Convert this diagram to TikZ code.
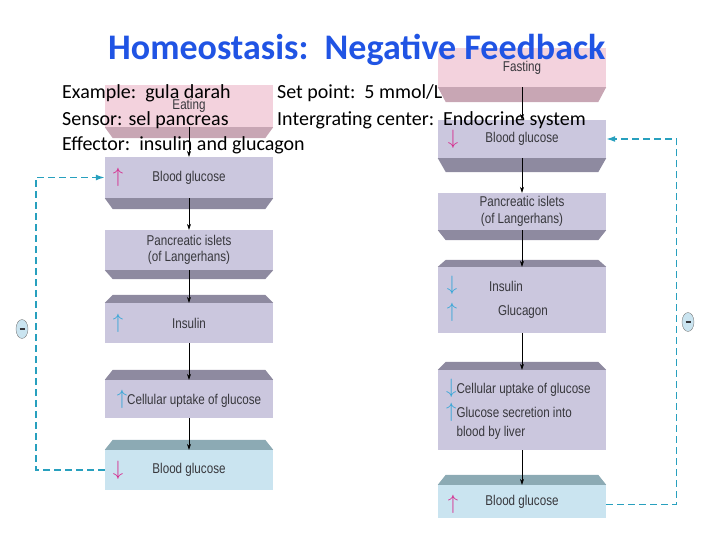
\documentclass[tikz,border=0pt]{standalone}
\usepackage{fontspec}
\setmainfont{Carlito}
\newfontfamily\figfont[FakeStretch=0.82]{Liberation Sans}
\usetikzlibrary{
    positioning,
    arrows.meta,
    shapes.geometric,
    calc
}
\definecolor{title_blue}{RGB}{32,84,228}
\definecolor{pink_face}{RGB}{243,210,221}
\definecolor{pink_bevel}{RGB}{200,166,180}
\definecolor{purple_face}{RGB}{203,199,222}
\definecolor{purple_bevel}{RGB}{142,138,160}
\definecolor{blue_face}{RGB}{202,228,240}
\definecolor{blue_bevel}{RGB}{140,170,180}
\definecolor{fig_text}{RGB}{55,55,60}
\definecolor{up_magenta}{RGB}{214,40,140}
\definecolor{up_cyan}{RGB}{50,165,215}
\definecolor{loop_teal}{RGB}{40,160,190}
\tikzset{
    face/.style={
        rectangle, minimum width=168pt, inner sep=0pt,
        align=center, text=fig_text,
        font=\figfont\fontsize{14.2}{16.5}\selectfont
    },
    pinkface/.style={face, fill=pink_face},
    purpleface/.style={face, fill=purple_face},
    blueface/.style={face, fill=blue_face},
    figlabel/.style={
        inner sep=0pt, text=fig_text,
        font=\figfont\fontsize{14.2}{16.5}\selectfont
    },
    updown/.style={
        inner sep=0pt, font=\fontsize{20}{20}\selectfont
    },
    flow/.style={
        -{Stealth[length=6pt,width=4pt]}, semithick, black
    },
    feedback/.style={
        -{Latex[length=9pt,width=6pt]}, line width=1.4pt, loop_teal,
        dash pattern=on 7pt off 4pt
    },
    minusmark/.style={
        ellipse, draw=gray, fill=blue_face, minimum width=12pt,
        minimum height=19pt, inner sep=0pt,
        path picture={\draw[line width=1.3pt, fig_text]
            ($(path picture bounding box.center)+(-2.5pt,0)$) -- ++(5pt,0);}
    },
    bodytext/.style={
        anchor=base west, inner sep=0pt,
        font=\fontsize{20}{22}\selectfont
    }
}
% bevel below / above a face node
\newcommand{\bevelbelow}[3]{%
    \fill[#2] (#1.south west) -- (#1.south east)
        -- ($(#1.south east)+(-8,#3)$) -- ($(#1.south west)+(8,#3)$) -- cycle;}
\newcommand{\bevelabove}[3]{%
    \fill[#2] (#1.north west) -- (#1.north east)
        -- ($(#1.north east)+(-8,-#3)$) -- ($(#1.north west)+(8,-#3)$) -- cycle;}
\newcommand{\arrowglyph}[2]{\textcolor{#1}{\fontsize{20}{20}\selectfont$#2$}}

\begin{document}
\begin{tikzpicture}[x=1pt, y=-1pt]
    \useasboundingbox (0,0) rectangle (720,540);

    % --- Columna izquierda: comer ---
    \node[pinkface, minimum height=42pt]   (eat)  at (189,106)   {Eating};
    \node[purpleface, minimum height=41pt] (bgl1) at (189,177.5) {Blood glucose};
    \node[purpleface, minimum height=40pt] (isl1) at (189,250)   {Pancreatic islets\\(of Langerhans)};
    \node[purpleface, minimum height=40pt] (ins1) at (189,323)   {Insulin};
    \node[purpleface, minimum height=38pt] (upt1) at (189,399)   {};
    \node[blueface, minimum height=40pt]   (bgl2) at (189,470)   {Blood glucose};

    \bevelbelow{eat}{pink_bevel}{11}
    \bevelbelow{bgl1}{purple_bevel}{11}
    \bevelbelow{isl1}{purple_bevel}{9}
    \bevelabove{ins1}{purple_bevel}{8}
    \bevelabove{upt1}{purple_bevel}{10}
    \bevelabove{bgl2}{blue_bevel}{10}

    \node[updown, text=up_magenta] at ($(bgl1)+(-71,0)$) {$\uparrow$};
    \node[updown, text=up_cyan]    at ($(ins1)+(-71,0)$) {$\uparrow$};
    \node[figlabel] at (upt1) {\arrowglyph{up_cyan}{\uparrow}Cellular uptake of glucose};
    \node[updown, text=up_magenta] at ($(bgl2)+(-71,0)$) {$\downarrow$};

    % --- Columna derecha: ayuno ---
    \node[pinkface, minimum height=39pt]   (fast) at (522,67.5)  {Fasting};
    \node[purpleface, minimum height=38pt] (bgr1) at (522,139)   {Blood glucose};
    \node[purpleface, minimum height=37pt] (isr1) at (522,211.5) {Pancreatic islets\\(of Langerhans)};
    \node[purpleface, minimum height=66pt] (insr) at (522,300)   {};
    \node[purpleface, minimum height=80pt] (uptr) at (522,410)   {};
    \node[blueface, minimum height=33pt]   (bgr2) at (522,501.5) {Blood glucose};

    \bevelbelow{fast}{pink_bevel}{15}
    \bevelbelow{bgr1}{purple_bevel}{14}
    \bevelbelow{isr1}{purple_bevel}{10}
    \bevelabove{insr}{purple_bevel}{7}
    \bevelabove{uptr}{purple_bevel}{8}
    \bevelabove{bgr2}{blue_bevel}{10}

    \node[updown, text=up_magenta] at ($(bgr1)+(-69,0)$) {$\downarrow$};
    \node[updown, text=up_cyan]    at ($(insr)+(-70,-15)$) {$\downarrow$};
    \node[figlabel]                at ($(insr)+(-16,-14)$) {Insulin};
    \node[updown, text=up_cyan]    at ($(insr)+(-70,12)$) {$\uparrow$};
    \node[figlabel]                at ($(insr)+(1,12)$)   {Glucagon};
    \node[figlabel, anchor=west, align=left] at ($(uptr)+(-76,0)$)
        {\arrowglyph{up_cyan}{\downarrow}Cellular uptake of glucose\\[4pt]
         \arrowglyph{up_cyan}{\uparrow}Glucose secretion into\\
         \phantom{\arrowglyph{up_cyan}{\uparrow}}blood by liver};
    \node[updown, text=up_magenta] at ($(bgr2)+(-69,3)$) {$\uparrow$};

    % --- Flechas verticales ---
    \foreach \a/\b in {eat/bgl1, bgl1/isl1, isl1/ins1, ins1/upt1, upt1/bgl2,
                       fast/bgr1, bgr1/isr1, isr1/insr, insr/uptr, uptr/bgr2} {
        \draw[flow] (\a.south) -- (\b.north);
    }

    % --- Lazos de realimentacion ---
    \draw[feedback] (bgl2.west) -- ++(-69,0) |- (bgl1.west);
    \draw[feedback] ($(bgr2.east)+(0,3)$) -- ++(70,0) |- (bgr1.east);
    \node[minusmark] (negl) at (22,329) {};
    \node[minusmark] (negr) at (688,322) {};

    % --- Titulo y texto ---
    \node[bodytext, font=\bfseries\fontsize{36}{40}\selectfont, text=title_blue]
        (title) at (108,60) {Homeostasis:\ \ Negative Feedback};
    \node[bodytext] (ex)  at (62,99)  {Example:\ \ gula darah};
    \node[bodytext] (sp)  at (277,99) {Set point:\ \ 5 mmol/L};
    \node[bodytext] (sen) at (62,126) {Sensor: sel pancreas};
    \node[bodytext] (ic)  at (277,126) {Intergrating center:\ \ Endocrine system};
    \node[bodytext] (eff) at (62,151) {Effector:\ \ insulin and glucagon};
\end{tikzpicture}
\end{document}
